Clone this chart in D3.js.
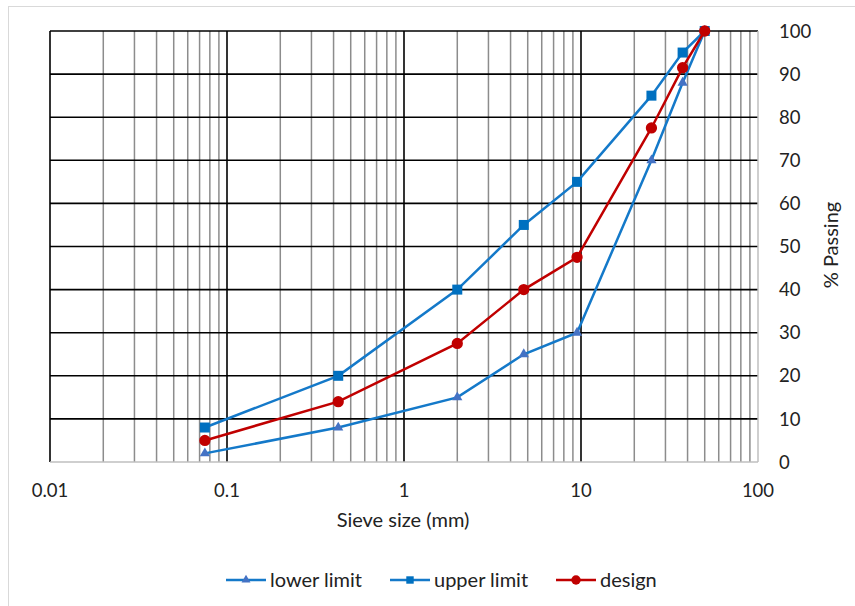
<!DOCTYPE html>
<html>
<head>
<meta charset="utf-8">
<script src="https://cdn.jsdelivr.net/npm/d3@7"></script>
<style>
  body { margin: 0; background: #fff; }
  text { font-family: Lato, "Open Sans", sans-serif; fill: #222; }
</style>
</head>
<body>
<svg width="855" height="606"></svg>
<script>
// sieve sizes (mm) and % passing
const sieves = [0.075, 0.425, 2, 4.75, 9.5, 25, 37.5, 50];
const lowerLimit = [2, 8, 15, 25, 30, 70, 88, 100];
const upperLimit = [8, 20, 40, 55, 65, 85, 95, 100];
const design = [5, 14, 27.5, 40, 47.5, 77.5, 91.5, 100];
const xTicks = [0.01, 0.1, 1, 10, 100];
const yTicks = [0, 10, 20, 30, 40, 50, 60, 70, 80, 90, 100];

const svg = d3.select("svg");
const plotLeft = 50, plotRight = 758, plotTop = 31, plotBottom = 462;

// chart frame
svg.append("rect")
  .attr("x", 8.5).attr("y", 6.5).attr("width", 900).attr("height", 700)
  .attr("fill", "none").attr("stroke", "#d9d9d9");

const x = d3.scaleLog().domain([0.01, 100]).range([plotLeft, plotRight]);
const y = d3.scaleLinear().domain([0, 100]).range([plotBottom, plotTop]);

// minor vertical grid
let minor = [];
for (let d = 0.01; d < 99; d *= 10) {
  for (let k = 2; k <= 9; k++) minor.push(d * k);
}
svg.append("g").selectAll("line").data(minor).enter().append("line")
  .attr("x1", function(d){ return x(d); })
  .attr("x2", function(d){ return x(d); })
  .attr("y1", plotTop).attr("y2", plotBottom)
  .attr("stroke", "#8c8c8c").attr("stroke-width", 1.5);

// horizontal grid
svg.append("g").selectAll("line").data(yTicks.slice(1)).enter().append("line")
  .attr("x1", plotLeft).attr("x2", plotRight)
  .attr("y1", function(d){ return y(d); })
  .attr("y2", function(d){ return y(d); })
  .attr("stroke", "#000").attr("stroke-width", 1.6);

// major vertical grid
svg.append("g").selectAll("line").data(xTicks.slice(0, 4)).enter().append("line")
  .attr("x1", function(d){ return x(d); })
  .attr("x2", function(d){ return x(d); })
  .attr("y1", plotTop).attr("y2", plotBottom)
  .attr("stroke", "#000").attr("stroke-width", 1.6);

// axis lines
svg.append("line").attr("x1", plotLeft).attr("x2", plotRight)
  .attr("y1", plotBottom).attr("y2", plotBottom)
  .attr("stroke", "#bfbfbf").attr("stroke-width", 1.5);
svg.append("line").attr("x1", plotRight).attr("x2", plotRight)
  .attr("y1", plotTop).attr("y2", plotBottom)
  .attr("stroke", "#bfbfbf").attr("stroke-width", 1.5);

// tick labels
svg.append("g").selectAll("text").data(xTicks).enter().append("text")
  .attr("x", function(d){ return x(d); })
  .attr("y", 497)
  .attr("text-anchor", "middle")
  .style("font-size", "18.5px")
  .text(function(d){ return d; });

svg.append("g").selectAll("text").data(yTicks).enter().append("text")
  .attr("x", 779)
  .attr("y", function(d){ return y(d) + 6.6; })
  .style("font-size", "18.5px")
  .text(function(d){ return d; });

// axis titles
svg.append("text").attr("x", 403).attr("y", 527)
  .attr("text-anchor", "middle").style("font-size", "20px")
  .text("Sieve size (mm)");
svg.append("text")
  .attr("transform", "translate(838,245) rotate(-90)")
  .attr("text-anchor", "middle").style("font-size", "20px")
  .text("% Passing");

const series = [
  { name: "lower limit", values: lowerLimit, color: "#1479c9", marker: "#4472c4", shape: d3.symbolTriangle, size: 45, legendSize: 35 },
  { name: "upper limit", values: upperLimit, color: "#1479c9", marker: "#0070c0", shape: d3.symbolSquare, size: 100, legendSize: 55 },
  { name: "design", values: design, color: "#c00000", marker: "#c00000", shape: d3.symbolCircle, size: 100, legendSize: 70 }
];

const line = d3.line()
  .x(function(d){ return x(d[0]); })
  .y(function(d){ return y(d[1]); });

series.forEach(function(s){
  const pts = sieves.map(function(v, i){ return [v, s.values[i]]; });
  svg.append("path").datum(pts)
    .attr("d", line)
    .attr("fill", "none")
    .attr("stroke", s.color)
    .attr("stroke-width", 2.5);
  svg.append("g").selectAll("path").data(pts).enter().append("path")
    .attr("transform", function(d){ return "translate(" + x(d[0]) + "," + y(d[1]) + ")"; })
    .attr("d", d3.symbol().type(s.shape).size(s.size))
    .attr("fill", s.marker);
});

// legend
const legendX = [226, 390, 556];
series.forEach(function(s, i){
  const g = svg.append("g").attr("transform", "translate(" + legendX[i] + ",580)");
  g.append("line").attr("x1", 0).attr("x2", 40).attr("y1", 0).attr("y2", 0)
    .attr("stroke", s.color).attr("stroke-width", 2.5);
  g.append("path").attr("transform", "translate(20,0)")
    .attr("d", d3.symbol().type(s.shape).size(s.legendSize))
    .attr("fill", s.marker);
  g.append("text").attr("x", 44).attr("y", 6.5)
    .style("font-size", "20px")
    .text(s.name);
});
</script>
</body>
</html>
